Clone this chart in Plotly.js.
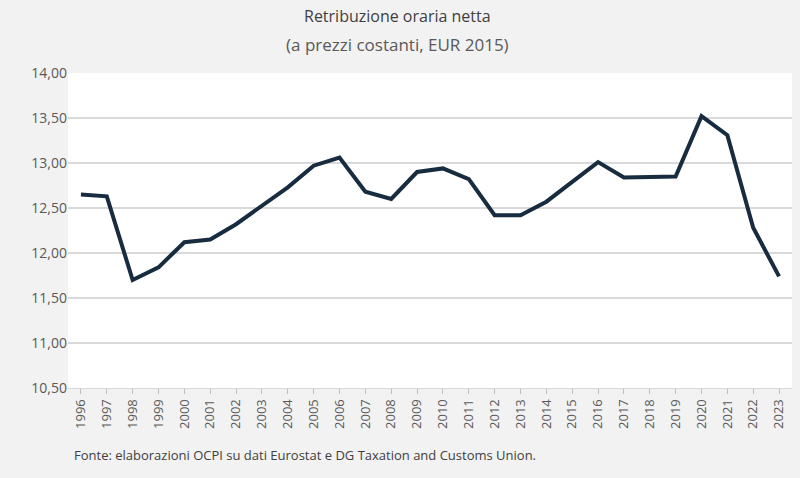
<!DOCTYPE html>
<html><head><script src="https://cdn.plot.ly/plotly-3.0.1.min.js"></script>
<style>body{margin:0;background:#f2f2f2}</style></head>
<body><div id="c" style="width:800px;height:478px"></div>
<script>
const years = ["1996","1997","1998","1999","2000","2001","2002","2003","2004","2005","2006","2007","2008","2009","2010","2011","2012","2013","2014","2015","2016","2017","2018","2019","2020","2021","2022","2023"];
const values = [12.65,12.63,11.70,11.84,12.12,12.15,12.32,12.53,12.73,12.97,13.06,12.68,12.60,12.90,12.94,12.82,12.42,12.42,12.57,12.79,13.01,12.84,12.84,12.85,13.52,13.31,12.28,11.74];
const tickVals = [10.5,11,11.5,12,12.5,13,13.5,14];
const tickText = ["10,50","11,00","11,50","12,00","12,50","13,00","13,50","14,00"];
Plotly.newPlot('c',[{x:years,y:values,type:'scatter',mode:'lines',line:{color:'#172c3f',width:4}}],{
  width:800,height:478,paper_bgcolor:'#f2f2f2',plot_bgcolor:'#ffffff',
  margin:{l:68,r:8,t:73,b:90},showlegend:false,
  font:{family:'Open Sans, sans-serif',color:'#595959'},
  xaxis:{type:'category',tickangle:-90,tickfont:{size:13,color:'#595959'},showgrid:false,ticks:'outside',ticklen:5,tickcolor:'#bfbfbf',showline:true,linecolor:'#d9d9d9',range:[-0.5,27.5]},
  yaxis:{range:[10.5,14],tickvals:tickVals,ticktext:tickText,tickfont:{size:14,color:'#595959'},gridcolor:'#d9d9d9',gridwidth:1.5,zeroline:false,ticks:'',ticklen:0},
  annotations:[
    {text:'Retribuzione oraria netta',xref:'paper',yref:'paper',x:0.455,y:1.0,yshift:57,xanchor:'center',yanchor:'middle',showarrow:false,font:{size:16,color:'#404040'}},
    {text:'(a prezzi costanti, EUR 2015)',xref:'paper',yref:'paper',x:0.455,y:1.0,yshift:29,xanchor:'center',yanchor:'middle',showarrow:false,font:{size:17,color:'#595959'}},
    {text:'Fonte: elaborazioni OCPI su dati Eurostat e DG Taxation and Customs Union.',xref:'paper',yref:'paper',x:0.006,y:0,yshift:-67,xanchor:'left',yanchor:'middle',showarrow:false,font:{size:13,color:'#404040'}}]
},{displayModeBar:false});
</script></body></html>
